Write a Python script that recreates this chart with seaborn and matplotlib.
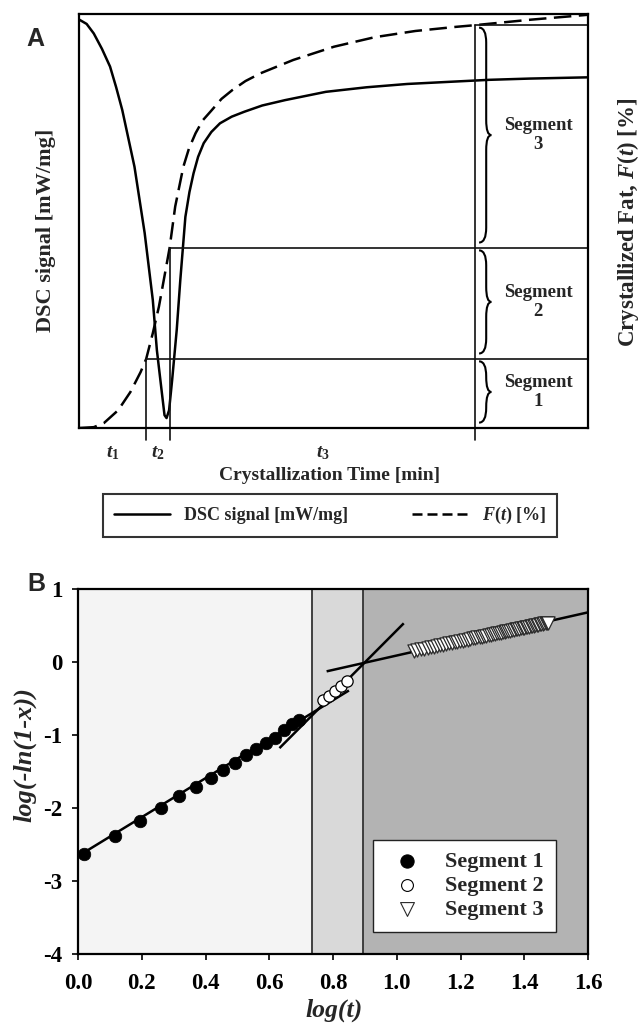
import numpy as np
import pandas as pd
import seaborn as sns
import matplotlib
matplotlib.use("Agg")
import matplotlib.pyplot as plt
from matplotlib.path import Path
from matplotlib.patches import PathPatch
from matplotlib.lines import Line2D

# ---------------- data: panel A (arbitrary units, 0-100) ----------------
dsc_time = [0.1, 1.5, 2.9, 4.5, 6.1, 7.3, 8.5, 10.9, 12.9, 14.5, 15.3, 16.1, 16.8,
            17.2, 17.7, 18.3, 19.2, 19.9, 20.9, 21.7, 22.5, 23.4, 24.5, 26.0,
            27.7, 30.0, 32.5, 36.0, 40.5, 48.5, 56.5, 64.5, 72.5, 80.6, 88.5, 99.9]
dsc_signal = [98.6, 97.6, 95.3, 91.6, 87.3, 82.3, 76.8, 63.1, 47.1, 30.9, 18.8,
              10.4, 3.1, 2.4, 4.3, 11.6, 23.7, 35.7, 51.0, 57.0, 61.5, 65.5, 68.8,
              71.5, 73.6, 75.2, 76.4, 77.9, 79.2, 81.2, 82.3, 83.1, 83.6, 84.1,
              84.4, 84.7]
ft_time = [0.1, 2.9, 4.9, 7.7, 10.1, 12.1, 13.2, 14.5, 15.7, 16.9, 17.8, 18.9,
           20.5, 21.6, 22.9, 24.3, 26.1, 28.0, 30.1, 32.7, 35.7, 42.1, 50.1,
           58.1, 66.1, 74.1, 77.8, 88.5, 99.9]
ft_value = [0.0, 0.2, 1.2, 4.3, 8.7, 13.5, 16.7, 22.9, 29.3, 37.4, 43.5, 53.5,
            63.1, 67.5, 71.2, 74.3, 76.8, 79.5, 81.6, 83.8, 85.7, 88.9, 92.1,
            94.4, 95.9, 96.9, 97.3, 98.6, 99.8]
seg_time = [13.2, 17.9, 77.8]          # ends of t1, t2, t3
seg_F = [16.7, 43.5, 97.3]             # F(t) at segment ends
t_labels = [r"$\mathit{t_1}$", r"$\mathit{t_2}$", r"$\mathit{t_3}$"]
seg_names = ["Segment\n1", "Segment\n2", "Segment\n3"]

# ---------------- data: panel B ----------------
seg1_logt = [0.019, 0.115, 0.193, 0.261, 0.318, 0.370, 0.417, 0.455, 0.492,
             0.526, 0.559, 0.590, 0.619, 0.645, 0.671, 0.692]
seg1_y = [-2.636, -2.379, -2.173, -1.999, -1.839, -1.710, -1.587, -1.482, -1.380,
          -1.280, -1.198, -1.115, -1.037, -0.930, -0.855, -0.795]
seg2_logt = [0.770, 0.788, 0.806, 0.824, 0.843]
seg2_y = [-0.525, -0.466, -0.397, -0.328, -0.260]
seg3_logt = [1.053, 1.065, 1.076, 1.086, 1.097, 1.107, 1.117, 1.127, 1.137, 1.146,
             1.155, 1.164, 1.173, 1.182, 1.190, 1.199, 1.207, 1.215, 1.223, 1.230,
             1.238, 1.246, 1.253, 1.260, 1.267, 1.274, 1.281, 1.288, 1.295, 1.301,
             1.308, 1.314, 1.320, 1.326, 1.332, 1.339, 1.344, 1.350, 1.356, 1.362,
             1.367, 1.373, 1.378, 1.384, 1.389, 1.395, 1.400, 1.405, 1.410, 1.415,
             1.420, 1.425, 1.430, 1.435, 1.439, 1.444, 1.449, 1.453, 1.458, 1.462,
             1.467, 1.471, 1.476]
seg3_y = [0.152, 0.163, 0.173, 0.182, 0.192, 0.202, 0.211, 0.220, 0.229, 0.238,
          0.246, 0.254, 0.262, 0.271, 0.278, 0.286, 0.294, 0.301, 0.308, 0.315,
          0.322, 0.330, 0.336, 0.343, 0.349, 0.355, 0.362, 0.368, 0.375, 0.380,
          0.387, 0.392, 0.398, 0.403, 0.409, 0.415, 0.420, 0.425, 0.431, 0.436,
          0.441, 0.446, 0.451, 0.457, 0.461, 0.467, 0.471, 0.476, 0.480, 0.485,
          0.490, 0.494, 0.499, 0.503, 0.507, 0.512, 0.516, 0.520, 0.525, 0.528,
          0.533, 0.537, 0.541]
fit1_x = [0.0, 0.85]
fit1_y = [-2.66, -0.39]
fit2_x = [0.632, 1.022]
fit2_y = [-1.18, 0.53]
fit3_x = [0.78, 1.60]
fit3_y = [-0.128, 0.680]
region_bounds = [0.0, 0.735, 0.895, 1.6]
region_colors = ["#f4f4f4", "#d9d9d9", "#b3b3b3"]
x_ticks = [0.0, 0.2, 0.4, 0.6, 0.8, 1.0, 1.2, 1.4, 1.6]
x_ticklabels = ["0.0", "0.2", "0.4", "0.6", "0.8", "1.0", "1.2", "1.4", "1.6"]
y_ticks = [-4, -3, -2, -1, 0, 1]
y_ticklabels = ["-4", "-3", "-2", "-1", "0", "1"]

# ---------------- style ----------------
sns.set_style("ticks")
plt.rcParams["font.family"] = ["Liberation Serif", "DejaVu Serif"]
plt.rcParams["font.weight"] = "bold"
plt.rcParams["mathtext.fontset"] = "custom"
plt.rcParams["mathtext.rm"] = "Liberation Serif:bold"
plt.rcParams["mathtext.it"] = "Liberation Serif:italic:bold"
plt.rcParams["mathtext.bf"] = "Liberation Serif:bold"

W, H = 639, 1027
fig = plt.figure(figsize=(W / 100, H / 100), dpi=100)
fig.patch.set_facecolor("white")

# ================= Panel A =================
axA = fig.add_axes([79 / W, 1 - 428 / H, 509 / W, 414 / H])
sns.lineplot(x=dsc_time, y=dsc_signal, sort=False, ax=axA, color="black",
             lw=1.8, legend=False)
sns.lineplot(x=ft_time, y=ft_value, sort=False, ax=axA, color="black",
             lw=1.8, legend=False)
axA.lines[-1].set_dashes((7, 3))
axA.set_xlim(0, 100)
axA.set_ylim(0, 100)
axA.set_xticks([])
axA.set_yticks([])
axA.set_xlabel("")
axA.set_ylabel("")
for sp in axA.spines.values():
    sp.set_linewidth(1.6)
    sp.set_color("black")

lc = "#111111"
for t, f in zip(seg_time, seg_F):
    axA.plot([t, t], [-2.9, f], color=lc, lw=1.2, clip_on=False)
    axA.plot([t, 100], [f, f], color=lc, lw=1.2, clip_on=False)


def brace(ax, y_bot, y_top, x0=78.6, xm=80.0, xt=81.0, r=3.6):
    ymid = (y_bot + y_top) / 2
    verts = [(x0, y_top), (xm, y_top), (xm, y_top - r),
             (xm, ymid + r), (xm, ymid), (xt, ymid),
             (xm, ymid), (xm, ymid - r),
             (xm, y_bot + r), (xm, y_bot), (x0, y_bot)]
    codes = [Path.MOVETO, Path.CURVE3, Path.CURVE3,
             Path.LINETO, Path.CURVE3, Path.CURVE3,
             Path.CURVE3, Path.CURVE3,
             Path.LINETO, Path.CURVE3, Path.CURVE3]
    ax.add_patch(PathPatch(Path(verts, codes), fill=False, lw=1.5,
                           edgecolor="black"))


lows = [0.0] + seg_F[:-1]
for lo, hi, name in zip(lows, seg_F, seg_names):
    b0, b1 = lo + 1.3, hi - 0.6
    brace(axA, b0, b1)
    axA.text(90.2, (b0 + b1) / 2, name, ha="center", va="center",
             fontsize=13.5, linespacing=1.1, fontweight="bold")

starts = [0.0] + seg_time[:-1]
for s, e, lab in zip(starts, seg_time, t_labels):
    axA.text((s + e) / 2, -6.0, lab, ha="center", va="center", fontsize=14,
             clip_on=False)

fig.text(330 / W, 1 - 475 / H, "Crystallization Time [min]", ha="center",
         va="center", fontsize=14, fontweight="bold")
fig.text(46 / W, 1 - 230 / H, "DSC signal [mW/mg]", rotation=90, ha="center",
         va="center", fontsize=16, fontweight="bold")
fig.text(628 / W, 1 - 222 / H, r"Crystallized Fat, $\mathit{F(t)}$ [%]",
         rotation=90, ha="center", va="center", fontsize=16.5, fontweight="bold")
fig.text(35.6 / W, 1 - 38.5 / H, "A", ha="center", va="center", fontsize=18,
         fontweight="bold", family=["Liberation Sans", "DejaVu Sans"])

handles = [Line2D([0], [0], color="black", lw=1.8),
           Line2D([0], [0], color="black", lw=1.8, dashes=(4, 2))]
legA = fig.legend(handles, ["DSC signal [mW/mg]", r"$\mathit{F(t)}$ [%]"],
                  loc="center", bbox_to_anchor=(103 / W, 1 - 537 / H, 454 / W, 43 / H),
                  mode="expand", borderaxespad=0, ncol=2, frameon=True,
                  fancybox=False, edgecolor="black", fontsize=13,
                  handlelength=3.1, handletextpad=0.8, borderpad=0.6)
legA.get_frame().set_linewidth(1.5)

# ================= Panel B =================
axB = fig.add_axes([78 / W, 1 - 954 / H, 510 / W, 365 / H])
for a, b, c in zip(region_bounds[:-1], region_bounds[1:], region_colors):
    axB.axvspan(a, b, color=c, zorder=0, lw=0)
for b in region_bounds[1:-1]:
    axB.axvline(b, color="#333333", lw=1.3, zorder=1)

for fx, fy in [(fit1_x, fit1_y), (fit2_x, fit2_y), (fit3_x, fit3_y)]:
    axB.plot(fx, fy, color="black", lw=1.8, zorder=2, solid_capstyle="butt")

sns.scatterplot(x=seg1_logt, y=seg1_y, ax=axB, marker="o", s=82, color="black",
                edgecolor="black", linewidth=0.5, zorder=3, label="Segment 1")
sns.scatterplot(x=seg2_logt, y=seg2_y, ax=axB, marker="o", s=66, color="white",
                edgecolor="black", linewidth=0.9, zorder=3, label="Segment 2")
sns.scatterplot(x=seg3_logt, y=seg3_y, ax=axB, marker="v", s=90, color="white",
                edgecolor="#2a2a2a", linewidth=0.9, zorder=3, label="Segment 3")

axB.set_xlim(0, 1.6)
axB.set_ylim(-4, 1)
axB.set_xticks(x_ticks)
axB.set_xticklabels(x_ticklabels)
axB.set_yticks(y_ticks)
axB.set_yticklabels(y_ticklabels)
axB.tick_params(direction="out", length=4, width=1.2, labelsize=16.5,
                colors="black")
axB.tick_params(axis="x", pad=10)
axB.tick_params(axis="y", pad=7)
axB.set_xlabel("")
axB.set_ylabel("")
for sp in axB.spines.values():
    sp.set_linewidth(1.6)
    sp.set_color("black")
    sp.set_zorder(5)

legB = axB.legend(loc="center", bbox_to_anchor=(0.575, 0.047, 0.364, 0.279),
                  fontsize=16, frameon=True, fancybox=False, edgecolor="#222222",
                  handlelength=2.0, handletextpad=0.7, labelspacing=0.15,
                  borderpad=0.55, borderaxespad=0, framealpha=1, markerscale=1.05)
legB.get_frame().set_linewidth(1.0)
for h in legB.legend_handles:
    h.set_linewidth(0.8)

fig.text(334 / W, 1 - 1010 / H, "log(t)", ha="center", va="center",
         fontsize=18.5, fontweight="bold", fontstyle="italic")
fig.text(24.5 / W, 1 - 755 / H, "log(-ln(1-x))", rotation=90, ha="center",
         va="center", fontsize=19, fontweight="bold", fontstyle="italic")
fig.text(36 / W, 1 - 584 / H, "B", ha="center", va="center", fontsize=18,
         fontweight="bold", family=["Liberation Sans", "DejaVu Sans"])

fig.savefig("out.png", dpi=100, facecolor="white")
